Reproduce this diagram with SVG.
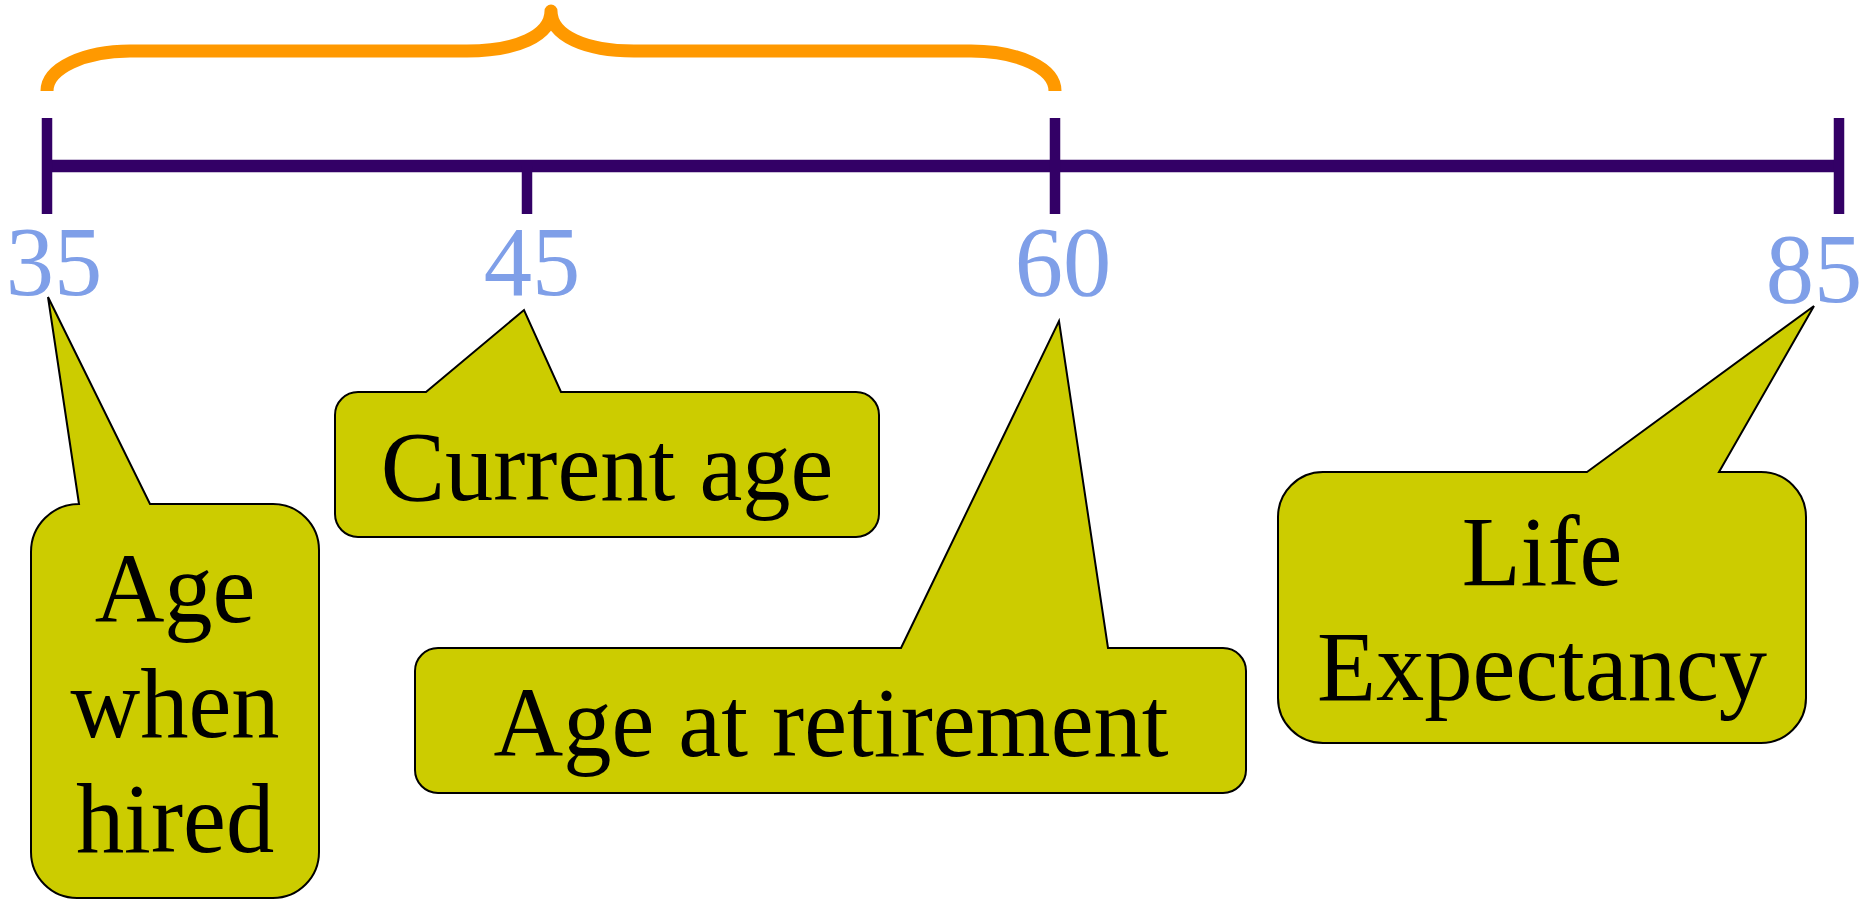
<svg xmlns="http://www.w3.org/2000/svg" width="1862" height="900" viewBox="0 0 1862 900">
  <style>
    .axis { stroke: #330066; stroke-width: 12.5; fill: none; }
    .tick { stroke: #330066; stroke-width: 10.5; fill: none; }
    .brace { stroke: #FF9900; stroke-width: 13; fill: none; stroke-linejoin: round; }
    .num { font-family: "Liberation Serif", "Times New Roman", serif; font-size: 100px; fill: #7F9FE8; text-anchor: middle; }
    .balloon { fill: #CCCC00; stroke: #000000; stroke-width: 2; stroke-linejoin: miter; }
    .lbl { font-family: "Liberation Serif", "Times New Roman", serif; font-size: 100px; fill: #000000; text-anchor: middle; }
  </style>
  <rect width="1862" height="900" fill="#ffffff"/>

  <g id="connectors">
    <path class="brace" d="M47,91 C47,68 85,51 130,51 L467,51 C516,51 551,36 551,11 C551,36 586,51 634,51 L971,51 C1018,51 1055,68 1055,91"/>
    <line class="axis" x1="42" y1="166" x2="1844" y2="166"/>
    <line class="tick" x1="47" y1="118" x2="47" y2="214"/>
    <line class="tick" x1="527" y1="166" x2="527" y2="214"/>
    <line class="tick" x1="1055" y1="118" x2="1055" y2="214"/>
    <line class="tick" x1="1839" y1="118" x2="1839" y2="214"/>
  </g>

  <g id="tick-labels">
    <text class="num" transform="translate(54,295) scale(0.965,1)">35</text>
    <text class="num" transform="translate(532,295) scale(0.965,1)">45</text>
    <text class="num" transform="translate(1063,295) scale(0.965,1)">60</text>
    <text class="num" transform="translate(1814,302) scale(0.965,1)">85</text>
  </g>

  <g id="age-when-hired">
    <path class="balloon" d="M79,504 L48,297 L150,504 L273,504 A46,46 0 0 1 319,550 L319,852 A46,46 0 0 1 273,898 L77,898 A46,46 0 0 1 31,852 L31,552 A48,48 0 0 1 79,504 Z"/>
    <text class="lbl" transform="translate(175,622) scale(0.965,1)">Age</text>
    <text class="lbl" transform="translate(175,737) scale(0.965,1)">when</text>
    <text class="lbl" transform="translate(175,852) scale(0.965,1)">hired</text>
  </g>

  <g id="current-age">
    <path class="balloon" d="M426,392 L524,310 L561,392 L856,392 A23,23 0 0 1 879,415 L879,514 A23,23 0 0 1 856,537 L358,537 A23,23 0 0 1 335,514 L335,415 A23,23 0 0 1 358,392 Z"/>
    <text class="lbl" transform="translate(607,500) scale(0.965,1)">Current age</text>
  </g>

  <g id="age-at-retirement">
    <path class="balloon" d="M901,648 L1059,321 L1108,648 L1223,648 A23,23 0 0 1 1246,671 L1246,770 A23,23 0 0 1 1223,793 L438,793 A23,23 0 0 1 415,770 L415,671 A23,23 0 0 1 438,648 Z"/>
    <text class="lbl" transform="translate(831,756) scale(0.965,1)">Age at retirement</text>
  </g>

  <g id="life-expectancy">
    <path class="balloon" d="M1587,472 L1814,306 L1719,472 L1761,472 A45,45 0 0 1 1806,517 L1806,698 A45,45 0 0 1 1761,743 L1323,743 A45,45 0 0 1 1278,698 L1278,517 A45,45 0 0 1 1323,472 Z"/>
    <text class="lbl" transform="translate(1542,585) scale(0.965,1)">Life</text>
    <text class="lbl" transform="translate(1542,700) scale(0.965,1)">Expectancy</text>
  </g>
</svg>
